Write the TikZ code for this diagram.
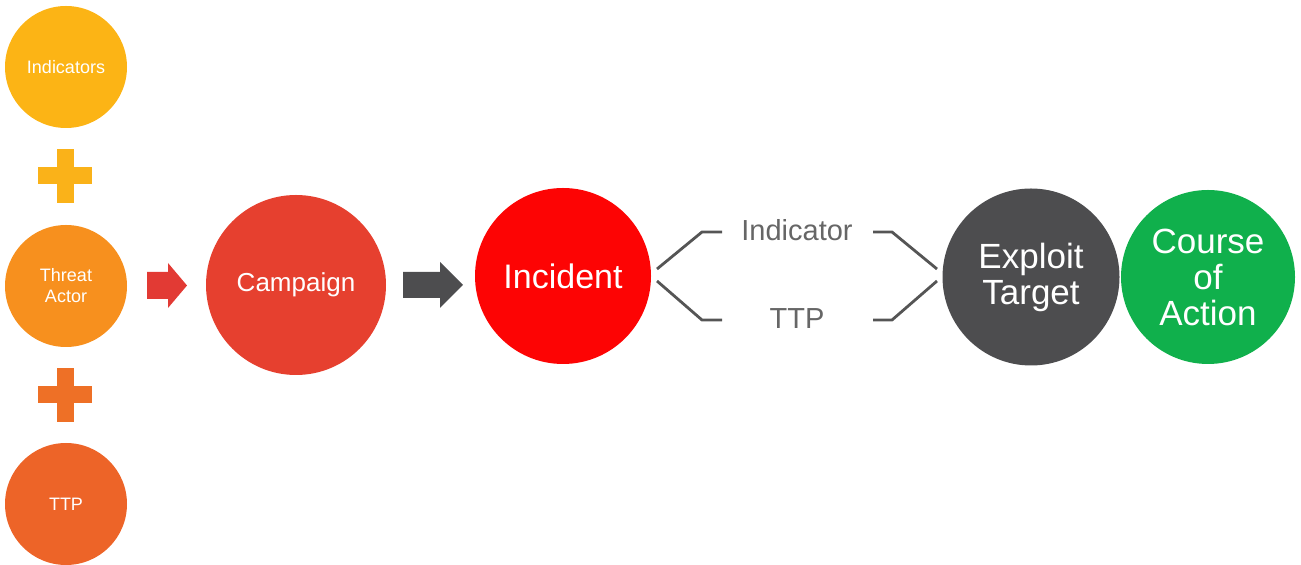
\documentclass[tikz,border=0pt]{standalone}
\usepackage{fontspec}
\setmainfont{Liberation Sans}
\definecolor{cInd}{RGB}{252,180,21}
\definecolor{cPlusA}{RGB}{250,178,25}
\definecolor{cTA}{RGB}{247,144,30}
\definecolor{cPlusB}{RGB}{238,112,38}
\definecolor{cTTP}{RGB}{237,100,40}
\definecolor{cRedArrow}{RGB}{226,58,52}
\definecolor{cCamp}{RGB}{230,64,47}
\definecolor{cGray}{RGB}{77,77,79}
\definecolor{cInc}{RGB}{253,4,4}
\definecolor{cCoA}{RGB}{16,176,76}
\definecolor{cLine}{RGB}{85,85,85}
\definecolor{cLabel}{RGB}{102,102,102}
\begin{document}
\begin{tikzpicture}[x=0.5pt,y=-0.5pt,
  ball/.style={circle,inner sep=0pt,text=white,align=center},
  smallball/.style={ball,minimum size=61pt,font=\fontsize{9}{10.5}\selectfont},
  bigball/.style={ball,font=\fontsize{17.5}{18}\selectfont},
  bracketline/.style={draw=cLine,line width=1.4pt},
  midlabel/.style={text=cLabel,font=\fontsize{14.5}{16}\selectfont,inner sep=0pt}]
\useasboundingbox (0,0) rectangle (1301,565);
% left column
\node[smallball,fill=cInd] (ind) at (66,67) {Indicators};
\node[smallball,fill=cTA] (ta) at (66,286) {Threat\\Actor};
\node[smallball,fill=cTTP] (ttp) at (66,504) {TTP};
% plus signs
\fill[cPlusA] (38,167.5) rectangle (92,184.5);
\fill[cPlusA] (56.5,149) rectangle (73.5,203);
\fill[cPlusB] (38,386.5) rectangle (92,403.5);
\fill[cPlusB] (56.5,368) rectangle (73.5,422);
% red block arrow
\fill[cRedArrow] (147,272) -- (168,272) -- (168,263) -- (187,285.5) -- (168,308) -- (168,299) -- (147,299) -- cycle;
% campaign
\node[ball,minimum size=90pt,fill=cCamp,font=\fontsize{13}{15}\selectfont] (camp) at (296,285) {Campaign};
% gray block arrow
\fill[cGray] (403,272) -- (440,272) -- (440,262) -- (463,285) -- (440,308) -- (440,298) -- (403,298) -- cycle;
% incident
\node[ball,minimum size=88pt,fill=cInc,font=\fontsize{17}{18}\selectfont] (inc) at (563,276) {Incident};
% labels
\node[midlabel] (lind) at (797,230) {Indicator};
\node[midlabel] (lttp) at (797,319) {TTP};
% exploit target and course of action
\node[bigball,minimum size=88.5pt,fill=cGray] (et) at (1031,277) {Exploit\\Target};
\node[bigball,minimum size=87pt,fill=cCoA] (coa) at (1208,277) {Course\\of\\Action};
% bracket connectors
\coordinate (a1) at (657,269);
\coordinate (a2) at (702,232);
\coordinate (a3) at (722,232);
\coordinate (b1) at (657,281);
\coordinate (b2) at (702,320);
\coordinate (b3) at (722,320);
\coordinate (c1) at (873,232);
\coordinate (c2) at (892,232);
\coordinate (c3) at (937,269);
\coordinate (d1) at (873,320);
\coordinate (d2) at (892,320);
\coordinate (d3) at (937,281);
\draw[bracketline] (a1) -- (a2) -- (a3);
\draw[bracketline] (b1) -- (b2) -- (b3);
\draw[bracketline] (c1) -- (c2) -- (c3);
\draw[bracketline] (d1) -- (d2) -- (d3);
\end{tikzpicture}
\end{document}
